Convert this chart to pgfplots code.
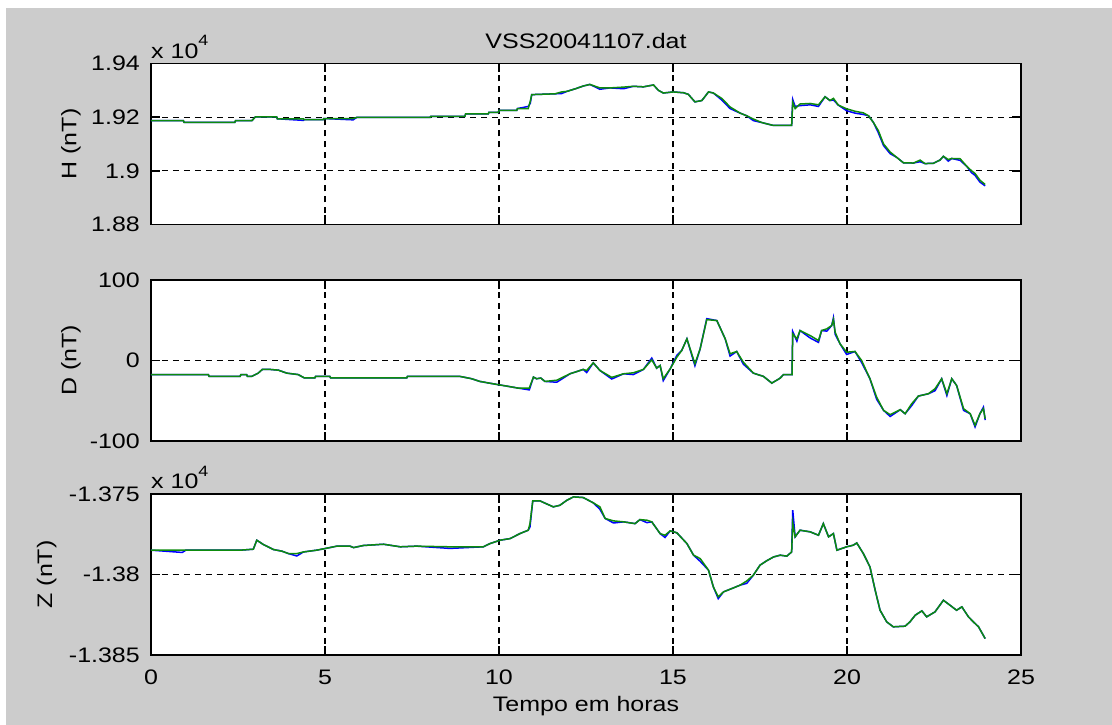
\documentclass[border=0pt]{standalone}
\usepackage{pgfplots}
\pgfplotsset{compat=1.18}
\usepackage{pgfplotstable}
\usepackage{fontspec}
\setmainfont{Liberation Sans}[FakeStretch=1.19]

\definecolor{figgray}{gray}{0.8}
\definecolor{mgreen}{rgb}{0.05,0.55,0.05}
\definecolor{mblue}{rgb}{0,0,1}

% Geomagnetic components, station VSS, 2004-11-07
% t = hour of day, g = green trace, b = blue trace (nT)
\pgfplotstableread{
t     g      b
0.00  19187  19187
0.93  19187  19187
0.95  19181  19181
2.41  19181  19181
2.43  19187  19187
2.90  19187  19187
3.00  19201  19201
3.61  19201  19201
3.63  19194  19194
4.38  19194  19188
4.40  19191  19191
4.95  19191  19191
4.97  19195  19195
5.81  19195  19190
5.91  19199  19199
8.02  19199  19199
8.04  19203  19203
9.02  19203  19203
9.04  19212  19212
9.69  19212  19212
9.71  19218  19218
9.98  19218  19218
10.00 19225  19225
10.51 19225  19225
10.53 19232  19232
10.84 19232  19240
10.90 19260  19252
10.94 19284  19284
11.61 19287  19287
11.80 19294  19288
11.95 19296  19296
12.20 19306  19306
12.42 19316  19316
12.61 19322  19322
12.90 19309  19304
13.19 19309  19309
13.58 19312  19306
13.86 19315  19315
14.15 19313  19313
14.44 19320  19320
14.58 19300  19300
14.72 19290  19290
15.01 19294  19294
15.30 19291  19291
15.44 19285  19285
15.63 19257  19257
15.83 19262  19262
16.02 19294  19294
16.16 19290  19290
16.40 19270  19264
16.64 19238  19232
16.93 19215  19215
17.12 19205  19205
17.31 19193  19187
17.55 19180  19180
17.79 19172  19172
17.89 19169  19169
18.41 19169  19169
18.44 19255  19266
18.51 19232  19240
18.65 19249  19243
18.94 19251  19246
19.18 19246  19240
19.37 19276  19276
19.51 19262  19262
19.61 19270  19264
19.75 19245  19245
19.99 19231  19224
20.23 19222  19215
20.47 19216  19210
20.62 19205  19205
20.76 19180  19180
20.90 19150  19142
21.05 19100  19094
21.24 19070  19064
21.43 19050  19050
21.62 19030  19030
21.91 19029  19029
22.10 19040  19034
22.24 19027  19027
22.48 19028  19028
22.67 19040  19040
22.77 19054  19054
22.91 19042  19036
23.01 19046  19046
23.25 19045  19039
23.44 19017  19017
23.58 19000  18993
23.68 18990  18983
23.82 18965  18958
23.97 18949  18944
}\Hdata

\pgfplotstableread{
t     g      b
0.00  -17.7  -17.7
1.65  -17.7  -17.7
1.67  -19.8  -19.8
2.56  -19.8  -19.8
2.58  -17.7  -17.7
2.75  -17.7  -17.7
2.77  -19.8  -19.8
2.89  -19.8  -19.8
3.08  -15.7  -15.7
3.20  -11.1  -11.1
3.42  -11.1  -11.1
3.66  -12.0  -12.0
3.90  -15.7  -15.7
4.23  -17.5  -17.5
4.40  -21.5  -21.5
4.71  -21.5  -21.5
4.73  -19.8  -19.8
5.14  -19.8  -19.8
5.16  -21.5  -21.5
7.35  -21.5  -21.5
7.37  -19.8  -19.8
8.88  -19.8  -19.8
9.20  -22.5  -22.5
9.45  -26.0  -26.0
9.93  -29.7  -29.7
10.22 -31.8  -31.8
10.55 -34.3  -34.3
10.87 -34.3  -36.5
10.99 -20.6  -20.6
11.08 -22.7  -22.7
11.20 -21.8  -21.8
11.32 -26.0  -26.0
11.66 -24.5  -27.0
12.04 -16.5  -16.5
12.42 -11.1  -11.1
12.52 -12.4  -15.0
12.71 -2.9   -2.9
12.90 -12.4  -12.4
13.24 -21.0  -23.0
13.58 -16.5  -16.5
13.86 -15.3  -17.5
14.15 -11.1  -11.1
14.39  0.8    3.0
14.53 -9.5   -9.5
14.63 -6.2   -6.2
14.72 -22.7  -25.0
14.92 -10.3  -10.3
15.11  4.1    6.5
15.25 12.4   12.4
15.40 26.9   26.9
15.63 -4.1   -6.5
15.78 14.5   14.5
15.97 50.8   52.0
16.26 49.6   49.6
16.50 26.9   26.9
16.64  8.3    5.5
16.83 11.2   11.2
17.02 -2.1   -4.5
17.31 -15.7  -15.7
17.60 -19.8  -19.8
17.84 -28.1  -28.1
18.08 -21.9  -21.9
18.17 -17.7  -17.7
18.42 -17.7  -17.7
18.44 33.0   36.0
18.56 26.9   24.0
18.65 37.2   37.2
18.94 31.0   28.0
19.18 24.8   22.5
19.27 37.2   37.2
19.42 39.3   36.5
19.56 43.4   43.4
19.61 50.8   53.0
19.66 35.1   32.5
19.80 20.7   20.7
19.99 10.3    7.5
20.23 11.2   11.2
20.42  0.0   -2.5
20.66 -22.7  -22.7
20.85 -45.4  -48.0
21.05 -61.9  -61.9
21.24 -67.3  -69.5
21.53 -61.1  -61.1
21.67 -66.1  -66.1
21.86 -53.7  -56.0
22.05 -44.2  -44.2
22.34 -41.3  -41.3
22.53 -35.1  -37.5
22.72 -22.7  -22.7
22.87 -41.3  -43.5
23.01 -22.7  -22.7
23.15 -31.0  -31.0
23.35 -59.9  -62.0
23.54 -66.1  -66.1
23.68 -80.5  -82.5
23.82 -66.1  -66.1
23.92 -59.9  -58.0
23.97 -72.3  -74.0
}\Ddata

\pgfplotstableread{
t     g         b
0.00  -13784.9  -13784.9
0.90  -13784.9  -13786.3
1.00  -13784.9  -13784.9
2.56  -13784.9  -13784.9
2.94  -13784.3  -13784.3
3.04  -13778.7  -13778.7
3.23  -13781.4  -13781.4
3.52  -13784.5  -13784.5
3.76  -13785.5  -13785.5
3.95  -13787.0  -13787.0
4.19  -13787.0  -13788.5
4.38  -13786.0  -13786.0
4.76  -13784.9  -13784.9
4.95  -13784.1  -13784.1
5.34  -13782.4  -13782.4
5.72  -13782.4  -13782.4
5.82  -13783.3  -13783.3
6.10  -13782.0  -13782.0
6.68  -13781.2  -13781.2
7.16  -13782.8  -13782.8
7.63  -13782.4  -13782.4
8.59  -13782.8  -13783.8
9.55  -13782.8  -13782.8
9.74  -13780.8  -13780.8
10.03 -13778.7  -13778.7
10.32 -13777.7  -13777.7
10.60 -13774.6  -13774.6
10.84 -13772.5  -13772.5
10.89 -13768.4  -13770.5
10.97 -13754.3  -13754.3
11.18 -13754.3  -13754.3
11.56 -13758.0  -13758.0
11.75 -13757.0  -13757.0
11.95 -13753.9  -13753.9
12.14 -13751.8  -13751.8
12.42 -13752.2  -13752.2
12.71 -13755.5  -13755.5
12.90 -13758.0  -13759.5
13.05 -13765.2  -13765.2
13.29 -13766.7  -13768.0
13.58 -13767.3  -13767.3
13.91 -13768.4  -13768.4
14.05 -13765.9  -13765.9
14.25 -13766.3  -13767.8
14.39 -13767.3  -13767.3
14.63 -13774.6  -13774.6
14.77 -13775.6  -13777.0
14.92 -13772.9  -13772.9
15.11 -13774.1  -13774.1
15.40 -13780.8  -13780.8
15.59 -13788.0  -13788.0
15.78 -13790.1  -13791.8
16.02 -13797.3  -13797.3
16.16 -13807.7  -13807.7
16.30 -13813.9  -13815.0
16.45 -13810.8  -13810.8
16.74 -13808.3  -13808.3
16.93 -13806.6  -13806.6
17.12 -13804.0  -13805.5
17.31 -13800.4  -13800.4
17.50 -13794.2  -13794.2
17.69 -13791.5  -13791.5
17.89 -13789.1  -13789.1
18.08 -13788.0  -13788.0
18.27 -13788.6  -13788.6
18.41 -13786.0  -13786.0
18.44 -13768.0  -13760.0
18.51 -13776.6  -13776.6
18.65 -13772.5  -13772.5
18.94 -13773.5  -13773.5
19.18 -13775.6  -13775.6
19.32 -13768.4  -13768.4
19.47 -13776.6  -13776.6
19.61 -13774.6  -13774.6
19.71 -13784.9  -13784.9
19.99 -13782.8  -13782.8
20.18 -13781.8  -13781.8
20.28 -13780.4  -13780.4
20.47 -13787.0  -13787.0
20.66 -13795.3  -13795.3
20.81 -13809.8  -13809.8
20.95 -13822.2  -13822.2
21.14 -13829.4  -13829.4
21.33 -13832.5  -13832.5
21.67 -13832.1  -13832.1
21.81 -13829.4  -13829.4
21.96 -13825.3  -13825.3
22.15 -13822.6  -13822.6
22.29 -13826.3  -13826.3
22.53 -13823.2  -13823.2
22.77 -13816.0  -13816.0
22.96 -13819.1  -13819.1
23.15 -13822.2  -13822.2
23.30 -13820.1  -13820.1
23.49 -13826.3  -13826.3
23.63 -13829.4  -13829.4
23.78 -13832.5  -13832.5
23.97 -13839.8  -13839.8
}\Zdata

\pgfplotsset{
  magpanel/.style={
    scale only axis, width=870pt, height=161pt,
    xmin=0, xmax=25, xtick={0,5,10,15,20,25},
    grid=major,
    major grid style={black, line width=1.1pt, dash pattern=on 6pt off 5pt},
    axis line style={black, line width=1.6pt},
    tick align=inside, major tick length=9pt,
    tick style={black, line width=1.4pt},
    axis background/.style={fill=white},
    yticklabel style={anchor=east, inner sep=0pt, xshift=-11pt},
    xticklabel style={anchor=base, inner sep=0pt, yshift=-30pt},
    scaled y ticks=false,
    clip mode=individual,
  },
  ylabelat/.style={
    every axis y label/.style={at={(axis description cs:#1,0.5)},
      rotate=90, anchor=center, inner sep=0pt}},
  bluetrace/.style={mblue, line width=1.5pt, no marks},
  greentrace/.style={mgreen, line width=1.5pt, no marks},
}

\newcommand{\expnote}{x 10\raisebox{0.6em}{\fontsize{15}{15}\selectfont 4}}

\begin{document}
\fontsize{21}{25}\selectfont
\begin{tikzpicture}
\fill[white] (0,0) rectangle (1112pt,725pt);
\fill[figgray] (6pt,0) rectangle (1112pt,717pt);
\useasboundingbox (0,0) rectangle (1112pt,725pt);

% H component
\begin{axis}[magpanel, at={(151pt,500.5pt)}, anchor=south west,
    ymin=18800, ymax=19400, ytick={18800,19000,19200,19400},
    yticklabels={1.88,1.9,1.92,1.94}, xticklabels={},
    title={VSS20041107.dat},
    title style={at={(axis description cs:0.5,1)}, anchor=base, yshift=9pt, inner sep=0pt},
    ylabelat=-0.092, ylabel={H (nT)}]
  \addplot[bluetrace] table[x=t, y=b] {\Hdata};
  \addplot[greentrace] table[x=t, y=g] {\Hdata};
  \node[anchor=base west, inner sep=0pt, yshift=5pt] at (axis description cs:0,1) {\expnote};
\end{axis}

% D component
\begin{axis}[magpanel, at={(151pt,284pt)}, anchor=south west,
    ymin=-100, ymax=100, ytick={-100,0,100},
    yticklabels={-100,0,100}, xticklabels={},
    ylabelat=-0.092, ylabel={D (nT)}]
  \addplot[bluetrace] table[x=t, y=b] {\Ddata};
  \addplot[greentrace] table[x=t, y=g] {\Ddata};
\end{axis}

% Z component
\begin{axis}[magpanel, at={(151pt,70pt)}, anchor=south west,
    ymin=-13850, ymax=-13750, ytick={-13850,-13800,-13750},
    yticklabels={-1.385,-1.38,-1.375},
    xticklabels={0,5,10,15,20,25},
    xlabel={Tempo em horas},
    xlabel style={at={(axis description cs:0.5,0)}, anchor=base, yshift=-57pt, inner sep=0pt},
    ylabelat=-0.12, ylabel={Z (nT)}]
  \addplot[bluetrace] table[x=t, y=b] {\Zdata};
  \addplot[greentrace] table[x=t, y=g] {\Zdata};
  \node[anchor=base west, inner sep=0pt, yshift=5pt] at (axis description cs:0,1) {\expnote};
\end{axis}
\end{tikzpicture}
\end{document}
